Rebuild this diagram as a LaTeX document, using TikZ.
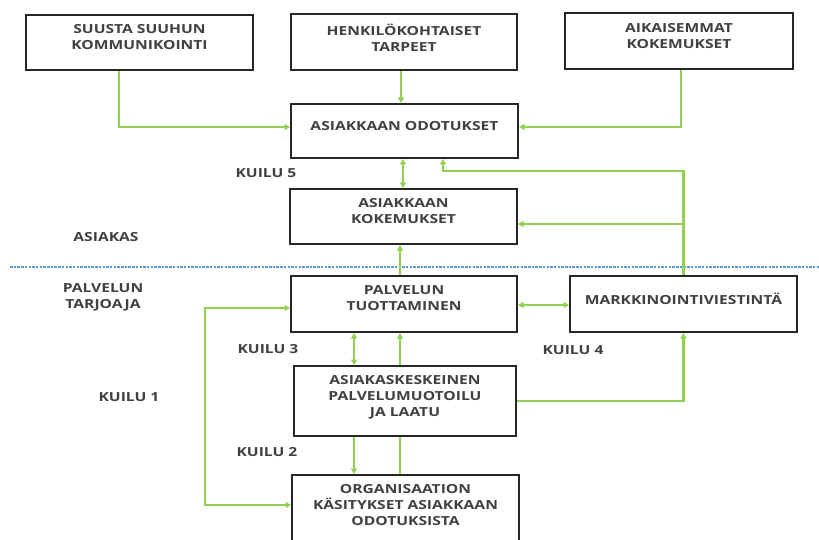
\documentclass[tikz,border=0pt]{standalone}
\usepackage{fontspec}
\setmainfont{Open Sans}[FakeStretch=1.25]
\usetikzlibrary{arrows.meta}
\definecolor{lgreen}{RGB}{146,208,80}
\definecolor{lblue}{RGB}{91,155,213}
\tikzset{
  box/.style={draw=black!85, line width=2pt, minimum width=#1, inner sep=0pt},
  txt/.style={font=\bfseries\fontsize{12.5}{16}\selectfont, text=black!75, align=center, inner sep=0pt},
  conn/.style={draw=lgreen, line width=2.1pt},
  arr/.style={conn, -{Triangle[length=5.5pt,width=6pt]}},
  darr/.style={conn, {Triangle[length=5.5pt,width=6pt]}-{Triangle[length=5.5pt,width=6pt]}},
}
\begin{document}
\begin{tikzpicture}[x=1pt,y=-1pt]
\useasboundingbox (0,0) rectangle (819,540);
% divider
\coordinate (dl) at (10,267);
\coordinate (dr) at (819,267);
\draw[lblue, line width=1.3pt, dash pattern=on 2.5pt off 1.2pt] (dl) -- (dr);
% boxes
\node[box=227pt, minimum height=55pt] (suusta) at (139.5,42.5) {};
\node[box=226pt, minimum height=56pt] (henk) at (404,42) {};
\node[box=228pt, minimum height=56pt] (aika) at (679,41) {};
\node[box=227pt, minimum height=54pt] (odot) at (404.5,131) {};
\node[box=227pt, minimum height=55pt] (koke) at (403.5,216.5) {};
\node[box=226pt, minimum height=56pt] (palv) at (404,304) {};
\node[box=227pt, minimum height=56pt] (mark) at (683.5,304) {};
\node[box=222pt, minimum height=70pt] (asia) at (405,401) {};
\node[box=227pt, minimum height=76pt] (org) at (405.5,513) {};
% box texts
\node[txt] (suustaT) at (139.5,37.5) {SUUSTA SUUHUN\\KOMMUNIKOINTI};
\node[txt] (henkT) at (404,37.5) {HENKILÖKOHTAISET\\TARPEET};
\node[txt] (aikaT) at (679,36) {AIKAISEMMAT\\KOKEMUKSET};
\node[txt] (odotT) at (404.5,126.5) {ASIAKKAAN ODOTUKSET};
\node[txt] (kokeT) at (403.5,211.5) {ASIAKKAAN\\KOKEMUKSET};
\node[txt] (palvT) at (404,298.5) {PALVELUN\\TUOTTAMINEN};
\node[txt] (markT) at (683.5,298.5) {MARKKINOINTIVIESTINTÄ};
\node[txt] (asiaT) at (405,397.5) {ASIAKASKESKEINEN\\PALVELUMUOTOILU\\JA LAATU};
\node[txt] (orgT) at (405.5,505.5) {ORGANISAATION\\KÄSITYKSET ASIAKKAAN\\ODOTUKSISTA};
% side labels
\node[txt] (k5) at (266,173) {KUILU 5};
\node[txt] (asiakas) at (106,237.5) {ASIAKAS};
\node[txt] (tarj) at (103,297) {PALVELUN\\TARJOAJA};
\node[txt] (k3) at (268,349) {KUILU 3};
\node[txt] (k4) at (573,350.5) {KUILU 4};
\node[txt] (k1) at (129,397.5) {KUILU 1};
\node[txt] (k2) at (267,452) {KUILU 2};
% connectors
\draw[arr] ([xshift=-20.5pt]suusta.south) |- ([yshift=4pt]odot.west);
\draw[arr] ([xshift=-3pt]henk.south) -- ([xshift=-3pt]henk.south |- odot.north);
\draw[arr] ([xshift=2pt]aika.south) |- ([yshift=4pt]odot.east);
\draw[darr] ([xshift=-1.5pt]odot.south) -- ([xshift=-1.5pt]odot.south |- koke.north);
\coordinate (m1) at (683.5,171);
\coordinate (m2) at (683.5,224);
\draw[arr] (mark.north) -- (m1) -| ([xshift=38.5pt]odot.south);
\draw[arr] (m2) -- (m2 -| koke.east);
\draw[arr] ([xshift=-4pt]palv.north) -- ([xshift=-4pt]palv.north |- koke.south);
\draw[darr] ([yshift=-1pt]palv.east) -- ([yshift=-1pt]palv.east -| mark.west);
\coordinate (lc) at (205,308);
\draw[darr] ([yshift=8pt]org.west) -| (lc) -- (lc -| palv.west);
\draw[darr] ([xshift=-50pt]palv.south) -- ([xshift=-50pt]palv.south |- asia.north);
\draw[arr] ([xshift=-4pt]palv.south |- asia.north) -- ([xshift=-4pt]palv.south);
\draw[arr] ([xshift=-51pt]asia.south) -- ([xshift=-51pt]asia.south |- org.north);
\draw[conn] ([xshift=-5pt]asia.south) -- ([xshift=-5pt]asia.south |- org.north);
\draw[arr] (asia.east) -| (mark.south);
\end{tikzpicture}
\end{document}
